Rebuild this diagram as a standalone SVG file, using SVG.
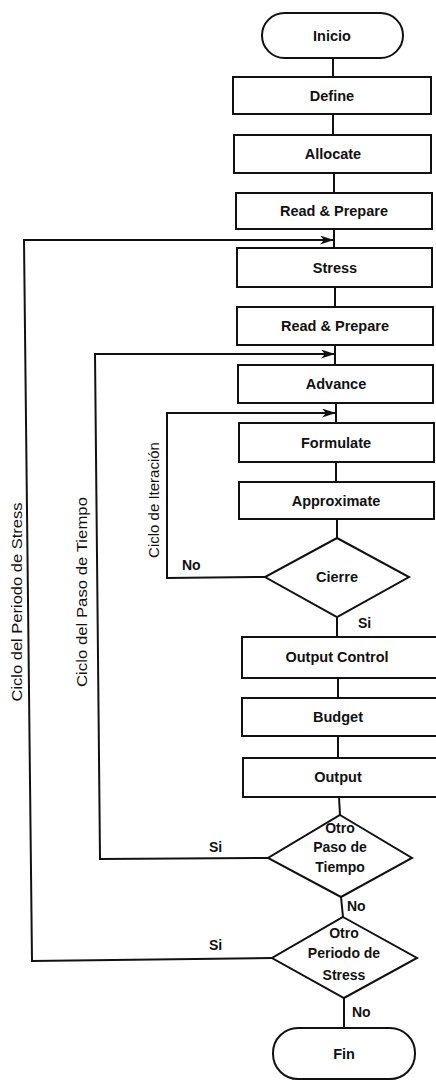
<svg xmlns="http://www.w3.org/2000/svg" width="436" height="1081" viewBox="0 0 436 1081">
<style>
.n{fill:#fff;stroke:#111;stroke-width:2}
.c{fill:none;stroke:#111;stroke-width:2}
.t{font-family:"Liberation Sans",Arial,sans-serif;font-weight:bold;font-size:14.5px;fill:#111;text-anchor:middle}
.d{font-family:"Liberation Sans",Arial,sans-serif;font-weight:bold;font-size:14px;fill:#111;text-anchor:middle}
.l{font-family:"Liberation Sans",Arial,sans-serif;font-weight:bold;font-size:14px;fill:#111}
.r{font-family:"Liberation Sans",Arial,sans-serif;font-size:15px;fill:#111;text-anchor:middle}
</style>
<defs>
<marker id="ah" markerUnits="userSpaceOnUse" markerWidth="15" markerHeight="9" refX="14" refY="4.5" orient="auto">
<path d="M0,0 L14,4.5 L0,9 L4,4.5 z" fill="#111"/>
</marker>
</defs>
<rect width="436" height="1081" fill="#fff"/>
<g id="connectors">
<line class="c" x1="333" y1="58" x2="333" y2="77"/>
<line class="c" x1="333" y1="114" x2="333" y2="135"/>
<line class="c" x1="334" y1="173" x2="334" y2="193"/>
<line class="c" x1="334" y1="229" x2="334" y2="248"/>
<line class="c" x1="335" y1="287" x2="335" y2="307"/>
<line class="c" x1="335" y1="345" x2="335" y2="365"/>
<line class="c" x1="336" y1="403" x2="336" y2="423"/>
<line class="c" x1="336" y1="462" x2="336" y2="482"/>
<line class="c" x1="337" y1="519" x2="337" y2="538"/>
<line class="c" x1="337" y1="617" x2="337" y2="637"/>
<line class="c" x1="338" y1="678" x2="338" y2="698"/>
<line class="c" x1="338" y1="736" x2="338" y2="758"/>
<line class="c" x1="339" y1="797" x2="340" y2="815"/>
<line class="c" x1="341" y1="897" x2="343" y2="917"/>
<line class="c" x1="344" y1="998" x2="344" y2="1028"/>
<polyline class="c" points="272,958 32,961 24,240 334,240" marker-end="url(#ah)"/>
<polyline class="c" points="268,858 100,859 95,354 335,354" marker-end="url(#ah)"/>
<polyline class="c" points="265,577 167,578 167,413 336,413" marker-end="url(#ah)"/>
<text class="l" x="358" y="628">Si</text>
<text class="l" x="182" y="570">No</text>
<text class="l" x="209" y="852">Si</text>
<text class="l" x="347" y="911">No</text>
<text class="l" x="209" y="950">Si</text>
<text class="l" x="352" y="1017">No</text>
<text class="r" transform="translate(22,602) rotate(-90)" textLength="199" lengthAdjust="spacingAndGlyphs">Ciclo del Periodo de Stress</text>
<text class="r" transform="translate(87,592) rotate(-90)" textLength="190" lengthAdjust="spacingAndGlyphs">Ciclo del Paso de Tiempo</text>
<text class="r" transform="translate(159,500) rotate(-90)">Ciclo de Iteración</text>
</g>
<g id="inicio"><rect class="n" x="262" y="13" width="141" height="45" rx="22.5"/><text class="t" x="332" y="41">Inicio</text></g>
<g id="define"><rect class="n" x="233" y="77" width="198" height="37"/><text class="t" x="332" y="101">Define</text></g>
<g id="allocate"><rect class="n" x="234" y="135" width="197" height="38"/><text class="t" x="333" y="159">Allocate</text></g>
<g id="read1"><rect class="n" x="236" y="193" width="196" height="36"/><text class="t" x="334" y="216">Read &amp; Prepare</text></g>
<g id="stress"><rect class="n" x="237" y="248" width="195" height="39"/><text class="t" x="335" y="273">Stress</text></g>
<g id="read2"><rect class="n" x="237" y="307" width="196" height="38"/><text class="t" x="335" y="331">Read &amp; Prepare</text></g>
<g id="advance"><rect class="n" x="238" y="365" width="195" height="38"/><text class="t" x="336" y="389">Advance</text></g>
<g id="formulate"><rect class="n" x="239" y="423" width="195" height="39"/><text class="t" x="336" y="448">Formulate</text></g>
<g id="approximate"><rect class="n" x="239" y="482" width="195" height="37"/><text class="t" x="336" y="506">Approximate</text></g>
<g id="cierre"><polygon class="n" points="337,538 409,577 337,617 265,577"/><text class="t" x="337" y="582">Cierre</text></g>
<g id="outputcontrol"><rect class="n" x="242" y="637" width="200" height="41"/><text class="t" x="337" y="662">Output Control</text></g>
<g id="budget"><rect class="n" x="242" y="698" width="200" height="38"/><text class="t" x="338" y="722">Budget</text></g>
<g id="output"><rect class="n" x="243" y="758" width="200" height="39"/><text class="t" x="338" y="782">Output</text></g>
<g id="otropaso"><polygon class="n" points="340,815 412,858 341,897 268,858"/><text class="d" x="340" y="833">Otro</text><text class="d" x="340" y="852">Paso de</text><text class="d" x="340" y="872">Tiempo</text></g>
<g id="otroperiodo"><polygon class="n" points="343,917 417,958 344,998 272,958"/><text class="d" x="344" y="938">Otro</text><text class="d" x="344" y="958">Periodo de</text><text class="d" x="344" y="980">Stress</text></g>
<g id="fin"><rect class="n" x="273" y="1028" width="142" height="51" rx="25"/><text class="t" x="344" y="1059">Fin</text></g>
</svg>
